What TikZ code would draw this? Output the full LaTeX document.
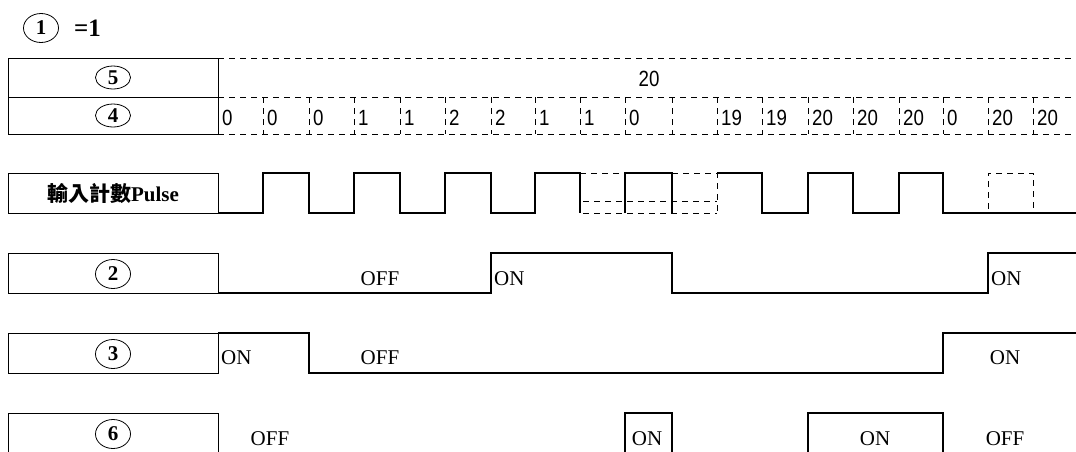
\documentclass[tikz,border=0pt]{standalone}
\usepackage{fontspec}
\setmainfont{Liberation Serif}
\newfontfamily\numfont{Liberation Sans}[FakeStretch=0.85]
\newfontfamily\cjkfont{Noto Sans CJK TC}
\usetikzlibrary{shapes.geometric}
\tikzset{
  lblbox/.style={draw, line width=1pt, minimum width=210pt, inner sep=0pt, outer sep=0pt, anchor=north west},
  wave/.style={line width=2.6pt, line join=miter},
  guide/.style={line width=0.9pt, dash pattern=on 6pt off 5pt},
  circnum/.style={draw, ellipse, line width=0.8pt, minimum width=35pt, minimum height=29pt, inner sep=0pt, font=\bfseries\fontsize{21}{21}\selectfont},
  tabnum/.style={circnum, minimum height=23pt},
  st/.style={font=\fontsize{21}{21}\selectfont, inner sep=0pt},
  cnt/.style={font=\numfont\fontsize{22}{22}\selectfont, anchor=west, inner sep=0pt},
}
\begin{document}
\begin{tikzpicture}[x=1pt, y=-1pt]
\useasboundingbox (0,0) rectangle (1076,451);
% header
\node[circnum] (c1) at (41,28) {1};
\node[font=\bfseries\fontsize{25}{25}\selectfont, anchor=west, inner sep=0pt] (eq) at (74,28) {=1};
% table
\node[lblbox, minimum height=39pt] (r5) at (8,58) {};
\node[lblbox, minimum height=37pt] (r4) at (8,97) {};
\node[tabnum] (c5) at (r5.center) {5};
\node[tabnum] (c4) at (r4.center) {4};
\draw[guide] (r5.north east) -- (1076,58);
\draw[guide] (r5.south east) -- (1076,97);
\draw[guide] (r4.south east) -- (1076,134);
\foreach \x in {263,309,354,400,445,491,535,580,625,672,717,762,808,853,899,943,988,1033}
  \draw[guide] (\x,97) -- (\x,134);
\node[cnt, anchor=center] (v5) at (649,79) {20};
\foreach \x/\t in {218/0,263/0,309/0,354/1,400/1,445/2,491/2,535/1,580/1,625/0,717/19,762/19,808/20,853/20,899/20,943/0,988/20,1033/20}
  \node[cnt] at (\x+4,118) {\t};
% pulse row
\node[lblbox, minimum height=40pt] (rp) at (8,173) {};
\node[font=\bfseries\fontsize{21}{21}\selectfont, inner sep=0pt] (lp) at ([yshift=-1pt]rp.center) {{\cjkfont 輸入計數}Pulse};
\draw[wave] (rp.south east) -- (263,213) -- (263,173) -- (309,173) -- (309,213) -- (354,213) -- (354,173) -- (400,173) -- (400,213)
  -- (445,213) -- (445,173) -- (491,173) -- (491,213) -- (535,213) -- (535,173) -- (580,173) -- (580,213);
\draw[wave] (625,213) -- (625,173) -- (672,173) -- (672,213);
\draw[wave] (717,173) -- (762,173) -- (762,213) -- (808,213) -- (808,173) -- (853,173) -- (853,213) -- (899,213) -- (899,173)
  -- (943,173) -- (943,213) -- (1080,213);
\draw[guide] (580,173) -- (625,173);
\draw[guide] (672,173) -- (717,173) -- (717,213);
\draw[guide] (583,201) -- (717,201);
\draw[guide] (583,213) -- (717,213);
\draw[guide] (988,209) -- (988,173) -- (1033,173) -- (1033,209);
% row 2
\node[lblbox, minimum height=40pt] (r2) at (8,253) {};
\node[circnum] (c2) at ([yshift=-1pt]r2.center) {2};
\draw[wave] (r2.south east) -- (491,293) -- (491,253) -- (672,253) -- (672,293) -- (988,293) -- (988,253) -- (1080,253);
\node[st] (t2a) at (380,279) {OFF};
\node[st, anchor=west] (t2b) at (494,279) {ON};
\node[st, anchor=west] (t2c) at (991,279) {ON};
% row 3
\node[lblbox, minimum height=40pt] (r3) at (8,333) {};
\node[circnum] (c3) at ([yshift=-1pt]r3.center) {3};
\draw[wave] (r3.north east) -- (309,333) -- (309,373) -- (943,373) -- (943,333) -- (1080,333);
\node[st, anchor=west] (t3a) at (221,358) {ON};
\node[st] (t3b) at (380,358) {OFF};
\node[st] (t3c) at (1005,358) {ON};
% row 6
\node[lblbox, minimum height=40pt] (r6) at (8,413) {};
\node[circnum] (c6) at ([yshift=-1pt]r6.center) {6};
\draw[wave] (625,460) -- (625,413) -- (672,413) -- (672,460);
\draw[wave] (808,460) -- (808,413) -- (943,413) -- (943,460);
\node[st] (t6a) at (270,439) {OFF};
\node[st] (t6b) at (647,439) {ON};
\node[st] (t6c) at (875,439) {ON};
\node[st] (t6d) at (1005,439) {OFF};
\end{tikzpicture}
\end{document}
